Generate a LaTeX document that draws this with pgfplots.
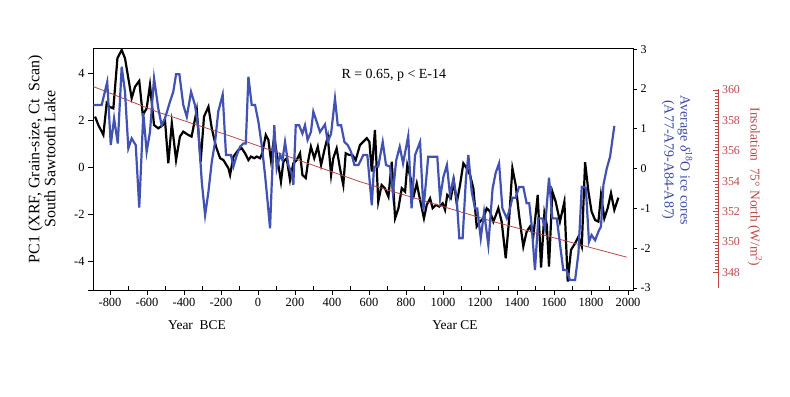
\documentclass[border=0pt]{standalone}
\usepackage{fontspec}
\setmainfont{Liberation Serif}
\usepackage{pgfplots}
\pgfplotsset{compat=1.18}
\definecolor{lineblue}{RGB}{66,82,178}
\definecolor{lblblue}{RGB}{58,72,165}
\definecolor{insred}{RGB}{188,72,72}

\begin{document}
\begin{tikzpicture}
\pgfplotsset{
  every axis/.append style={scale only axis, width=540bp, height=242bp,
    at={(93bp,107bp)}, anchor=south west, xmin=-892, xmax=2027,
    /pgf/number format/assume math mode=true,
    /pgf/number format/1000 sep={}},
}
% main axis: PC1
\begin{axis}[
  ymin=-5.22, ymax=5.08,
  xtick={-800,-600,...,2000},
  extra x ticks={-700,-500,...,1900},
  extra x tick labels={},
  extra x tick style={tick align=inside, major tick length=4bp},
  ytick={-4,-2,0,2,4},
  extra y ticks={-5.22},
  extra y tick labels={},
  xtick pos=bottom, ytick pos=left,
  tick align=outside,
  major tick length=5bp,
  tick style={black, line width=0.8bp},
  axis line style={line width=0.9bp},
  tick label style={font=\fontsize{12.5}{14}\selectfont},
]
\addplot[black, line width=2.2bp] coordinates {
(-881,2.16) (-863,1.80) (-836,1.38) (-818,2.73) (-804,2.58) (-782,2.51) (-760,4.64) (-737,5.00)
(-719,4.64) (-701,3.79) (-683,2.94) (-665,3.43) (-642,3.68) (-623,2.23) (-602,2.51) (-584,3.51)
(-562,1.80) (-539,1.66) (-515,1.80) (-503,2.02) (-485,0.17) (-466,1.88) (-443,0.31) (-422,1.31)
(-404,1.52) (-377,1.38) (-359,1.31) (-331,2.44) (-310,0.24) (-292,2.16) (-268,2.58) (-250,1.66)
(-227,0.88) (-205,0.39) (-187,0.31) (-160,-0.04) (-151,-0.32) (-133,0.46) (-106,0.74) (-88,0.81)
(-70,0.60) (-52,0.31) (-38,0.46) (-20,0.39) (-7,0.46) (11,0.39) (23,0.60) (42,1.38)
(56,1.17) (70,0.31) (88,1.31) (106,0.31) (124,-0.61) (137,0.24) (155,0.39) (173,-0.54)
(191,0.17) (209,0.31) (227,0.60) (240,-0.32) (258,-0.46) (272,0.31) (286,0.88) (304,0.39)
(323,0.88) (341,0.10) (359,0.74) (377,1.31) (395,-0.32) (407,0.39) (425,0.81) (443,-0.04)
(461,-0.75) (474,0.60) (492,0.53) (510,0.53) (528,0.31) (551,0.95) (569,1.09) (588,1.24)
(602,1.09) (615,-0.18) (632,1.59) (650,-1.46) (668,-0.75) (686,-0.89) (705,-1.25) (723,0.24)
(741,-2.17) (759,-1.74) (777,-0.89) (795,-1.03) (807,0.10) (825,-0.46) (843,-1.17) (858,-0.68)
(876,-1.39) (897,-2.17) (912,-1.60) (930,-1.32) (944,-1.74) (962,-1.60) (980,-1.67) (998,-1.53)
(1011,-1.81) (1023,-1.17) (1042,-1.32) (1059,-0.61) (1074,-1.53) (1092,-0.75) (1110,0.17) (1128,-0.04)
(1146,-0.32) (1164,-0.89) (1182,-2.52) (1200,-2.31) (1218,-2.17) (1236,-1.74) (1254,-1.88) (1272,-2.31)
(1285,-2.05) (1299,-1.74) (1317,-2.31) (1339,-3.87) (1357,-2.24) (1375,-0.04) (1393,-0.75) (1411,-2.03)
(1434,-3.37) (1452,-2.74) (1470,-2.52) (1488,-2.95) (1512,-1.17) (1530,-4.27) (1548,-1.95) (1561,-2.45)
(1573,-4.22) (1591,-1.03) (1609,-1.46) (1632,-2.31) (1656,-1.46) (1674,-4.86) (1692,-3.51) (1714,-3.23)
(1732,-2.95) (1750,-3.37) (1768,0.22) (1786,-1.03) (1803,-1.88) (1822,-2.24) (1840,-2.31) (1854,-1.17)
(1872,-2.17) (1890,-1.74) (1908,-1.10) (1926,-1.81) (1948,-1.29)
};
\end{axis}
% red insolation trend on hidden axis
\begin{axis}[hide axis, ymin=346.83, ymax=362.76]
\addplot[insred, line width=0.8bp] coordinates {
(-890,360.22) (-548,358.57) (-151,356.97) (551,353.96) (1272,351.33) (1993,348.99)
};
\end{axis}
% delta 18O axis
\begin{axis}[
  ymin=-3.05, ymax=3.03,
  axis y line*=right, axis x line=none,
  ytick={-3,-2,...,3},
  tick align=outside,
  major tick length=4bp,
  tick style={black, line width=0.8bp},
  axis line style={line width=0.9bp},
  tick label style={font=\fontsize{12}{14}\selectfont},
]
\addplot[lineblue, line width=2.2bp] coordinates {
(-890,1.60) (-845,1.60) (-815,2.18) (-796,0.59) (-778,1.26) (-758,0.63) (-737,2.56) (-719,1.93)
(-701,0.51) (-683,0.76) (-661,0.59) (-642,-0.98) (-620,1.39) (-602,0.42) (-584,0.92) (-562,2.27)
(-539,1.51) (-521,1.09) (-503,1.26) (-476,1.68) (-458,1.93) (-443,2.37) (-425,2.37) (-404,1.60)
(-385,1.30) (-362,1.93) (-341,1.60) (-323,1.01) (-304,-0.33) (-286,-1.17) (-268,-0.58) (-250,0.17)
(-232,0.67) (-215,1.43) (-191,1.86) (-173,0.34) (-146,0.34) (-133,0.05) (-115,0.34) (-97,0.55)
(-79,0.63) (-66,0.63) (-52,2.31) (-34,1.60) (-16,1.60) (2,1.18) (20,0.59) (38,-0.16)
(52,-0.84) (65,-1.50) (74,-0.41) (88,1.09) (101,0.00) (119,0.34) (132,0.21) (146,0.67)
(164,0.09) (182,-0.12) (191,-0.41) (204,1.09) (222,1.09) (240,0.88) (254,1.09) (268,0.72)
(286,0.92) (299,1.43) (317,1.18) (335,0.92) (348,1.01) (362,1.11) (377,0.67) (395,0.88)
(416,1.76) (431,1.09) (449,1.09) (467,0.67) (485,0.59) (503,0.42) (521,0.09) (543,0.09)
(569,0.34) (591,0.34) (615,-0.92) (627,0.05) (650,0.05) (674,0.67) (692,0.09) (714,0.05)
(729,-0.62) (747,0.21) (766,0.55) (784,0.13) (812,0.82) (830,-1.00) (849,0.34) (876,0.67)
(894,-1.04) (912,-0.12) (920,0.30) (969,0.30) (984,-0.75) (1002,-0.21) (1021,0.09) (1038,-0.67)
(1056,-0.25) (1074,-0.75) (1088,-1.75) (1106,-1.75) (1124,-0.25) (1137,0.34) (1155,-0.58) (1173,-1.00)
(1185,-1.00) (1204,-1.75) (1222,-1.09) (1245,-1.92) (1268,-0.50) (1285,-0.10) (1303,0.13) (1321,-1.00)
(1345,-1.25) (1362,-1.00) (1375,-0.73) (1393,-0.73) (1411,-0.46) (1434,-0.46) (1452,-0.87) (1466,-0.87)
(1479,-1.42) (1497,-2.55) (1515,-1.25) (1537,-1.25) (1551,-1.50) (1573,-0.23) (1591,-1.25) (1615,-1.25)
(1632,-1.88) (1650,-2.55) (1668,-2.55) (1686,-2.80) (1714,-2.80) (1732,-2.13) (1750,-0.46) (1772,-0.48)
(1789,-1.84) (1803,-1.67) (1822,-1.80) (1843,-1.55) (1854,-1.46) (1867,-0.41) (1885,0.00) (1903,0.30)
(1926,1.07)
};
\end{axis}
% insolation spine
\begin{axis}[
  at={(718.5bp,108.7bp)}, anchor=south east,
  width=20bp, height=199bp,
  ymin=346.95, ymax=360.05,
  axis y line*=right, axis x line=none,
  ytick={348,350,...,360},
  minor y tick num=9,
  tick align=inside,
  major tick length=6bp, minor tick length=3.5bp,
  tick style={insred, line width=0.7bp},
  axis line style={insred, line width=0.9bp},
  tick label style={font=\fontsize{12}{14}\selectfont, text=insred},
]
\end{axis}
\node[anchor=west, font=\fontsize{14}{16}\selectfont] at (338bp,322bp) {R = 0.65, p < E-14};
\node[font=\fontsize{13.5}{15}\selectfont] at (197bp,72bp) {Year\ \ BCE};
\node[font=\fontsize{13.5}{15}\selectfont] at (455bp,72bp) {Year CE};
\node[rotate=90, align=center, font=\fontsize{16}{16}\selectfont] at (42bp,238bp)
  {PC1 (XRF, Grain-size, Ct\ \ Scan)\\South Sawtooth Lake};
\node[rotate=-90, align=center, text=lblblue, font=\fontsize{14}{16}\selectfont] at (677bp,237bp)
  {Average \textit{δ}\textsuperscript{18}O ice cores\\(A77-A79-A84-A87)};
\node[rotate=-90, text=insred, font=\fontsize{13.5}{15}\selectfont] at (755bp,210bp)
  {Insolation\ \ 75° North (W/m\textsuperscript{2})};
\pgfresetboundingbox
\path[use as bounding box] (0,0) rectangle (790bp,397bp);
\end{tikzpicture}
\end{document}
